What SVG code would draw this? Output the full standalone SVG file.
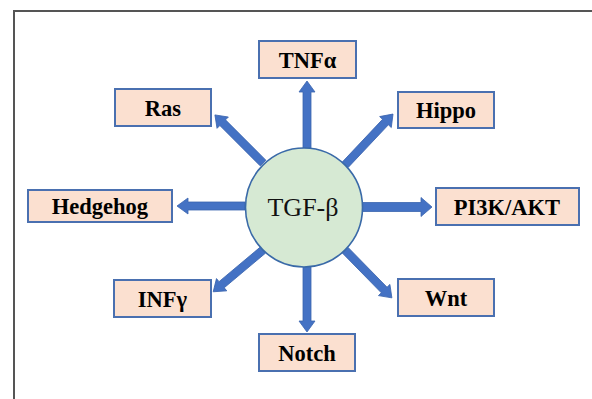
<svg xmlns="http://www.w3.org/2000/svg" width="592" height="399" viewBox="0 0 592 399">
<style>
.box{fill:#FBE0D0;stroke:#4A70B0;stroke-width:2}
.lbl{font-family:"Liberation Serif","Times New Roman",serif;font-weight:bold;font-size:22.5px;fill:#000;text-anchor:middle}
.arr{fill:#4472C4;stroke:#3A64AE;stroke-width:0.8}
</style>
<rect x="14" y="11" width="600" height="420" fill="#fff" stroke="#555" stroke-width="2"/>
<g id="connectors">
<path class="arr" transform="translate(307,148) rotate(-90)" d="M0,-4 H56 V-8 L67,0 L56,8 V4 H0 Z"/>
<path class="arr" transform="translate(307,266) rotate(90)" d="M0,-4 H55 V-8 L66,0 L55,8 V4 H0 Z"/>
<path class="arr" transform="translate(245,206) rotate(180)" d="M0,-4 H57 V-8 L68,0 L57,8 V4 H0 Z"/>
<path class="arr" transform="translate(362,207)" d="M0,-4.5 H59 V-9.5 L70,0 L59,9.5 V4.5 H0 Z"/>
<path class="arr" transform="translate(263,163) rotate(-135)" d="M0,-4 H57 V-8 L68,0 L57,8 V4 H0 Z"/>
<path class="arr" transform="translate(345,165) rotate(-46.7)" d="M0,-4 H59 V-8 L70,0 L59,8 V4 H0 Z"/>
<path class="arr" transform="translate(263,250) rotate(140)" d="M0,-4 H54 V-8 L65,0 L54,8 V4 H0 Z"/>
<path class="arr" transform="translate(345,250) rotate(45.6)" d="M0,-4 H56 V-8 L67,0 L56,8 V4 H0 Z"/>
</g>
<g id="tgf">
<ellipse cx="304" cy="207.5" rx="58.5" ry="59.5" fill="#D6E9D3" stroke="#3A6AA8" stroke-width="1.6"/>
<text x="303" y="216" font-family="'Liberation Serif','Times New Roman',serif" font-size="26" text-anchor="middle" fill="#111">TGF-β</text>
</g>
<g id="tnfa"><rect class="box" x="259" y="41" width="97" height="37"/><text class="lbl" x="307.5" y="67.5">TNFα</text></g>
<g id="ras"><rect class="box" x="115" y="89" width="96" height="37"/><text class="lbl" x="163" y="115.5">Ras</text></g>
<g id="hippo"><rect class="box" x="398" y="92" width="96" height="36"/><text class="lbl" x="446" y="118">Hippo</text></g>
<g id="hedgehog"><rect class="box" x="28" y="190" width="144" height="32"/><text class="lbl" x="100" y="214">Hedgehog</text></g>
<g id="pi3k"><rect class="box" x="436" y="188" width="143" height="37"/><text class="lbl" x="507" y="214.5">PI3K/AKT</text></g>
<g id="infg"><rect class="box" x="114" y="280" width="97" height="37"/><text class="lbl" x="162.5" y="306.5">INFγ</text></g>
<g id="wnt"><rect class="box" x="398" y="279" width="96" height="37"/><text class="lbl" x="446" y="305.5">Wnt</text></g>
<g id="notch"><rect class="box" x="259" y="334" width="96" height="37"/><text class="lbl" x="307" y="360.5">Notch</text></g>
</svg>
